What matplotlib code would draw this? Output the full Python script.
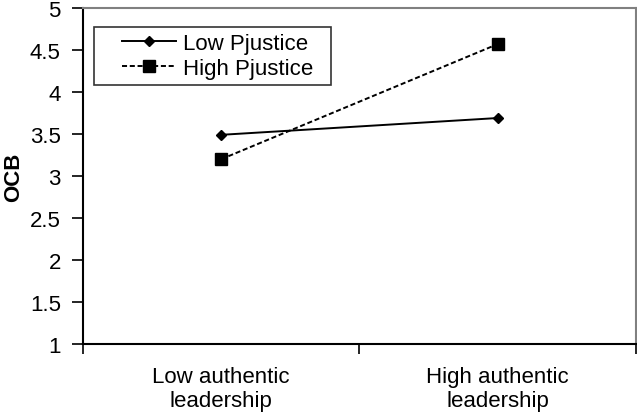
import matplotlib.pyplot as plt
from matplotlib.legend_handler import HandlerLine2D

plt.rcParams['font.family'] = ['Liberation Sans', 'DejaVu Sans']

categories = ["Low authentic\nleadership", "High authentic\nleadership"]
low_pjustice = [3.49, 3.69]
high_pjustice = [3.20, 4.57]
yticks = [1, 1.5, 2, 2.5, 3, 3.5, 4, 4.5, 5]
ytick_labels = ["1", "1.5", "2", "2.5", "3", "3.5", "4", "4.5", "5"]

fig = plt.figure(figsize=(6.37, 4.14), dpi=100)
ax = fig.add_axes([0.1303, 0.1667, 0.868, 0.8116])

x = [1, 2]
l1, = ax.plot(x, low_pjustice, color="black", linestyle="-", linewidth=1.4,
              marker="D", markersize=5.6, label="Low Pjustice  ")
l2, = ax.plot(x, high_pjustice, color="black", linestyle=(0, (2.6, 1.4)), linewidth=1.4,
              marker="s", markersize=8.4, label="High Pjustice  ")

ax.set_xlim(0.5, 2.5)
ax.set_ylim(1, 5)
ax.set_yticks(yticks)
ax.set_yticklabels(ytick_labels)
# category boundaries get tick marks, labels sit at the category centres
ax.set_xticks([0.5, 1.5, 2.5])
ax.set_xticklabels([])
ax.set_xticks(x, minor=True)
ax.set_xticklabels(categories, minor=True)
ax.tick_params(axis="x", which="minor", length=0, pad=16, labelsize=16)
ax.tick_params(axis="x", which="major", length=7, width=1.2, direction="out")
ax.tick_params(axis="y", length=8, width=1.2, direction="out", labelsize=16, pad=8)

ax.spines["left"].set_color("black")
ax.spines["bottom"].set_color("black")
ax.spines["top"].set_color("#808080")
ax.spines["right"].set_color("#808080")
for s in ax.spines.values():
    s.set_linewidth(1.5)

ax.set_ylabel("OCB", fontsize=16, fontweight="bold")
ax.yaxis.set_label_coords(-0.106, 0.5)

hmap = {l1: HandlerLine2D(xpad=1.0), l2: HandlerLine2D(xpad=1.0)}
leg = ax.legend(handler_map=hmap, loc="upper left", bbox_to_anchor=(0.02, 0.943),
                borderaxespad=0, fontsize=16, frameon=True, fancybox=False,
                edgecolor="black", handlelength=3.45, borderpad=0.25,
                labelspacing=0.2, handletextpad=0.3)
leg.get_frame().set_linewidth(1.2)

fig.savefig("out.png", dpi=100)
